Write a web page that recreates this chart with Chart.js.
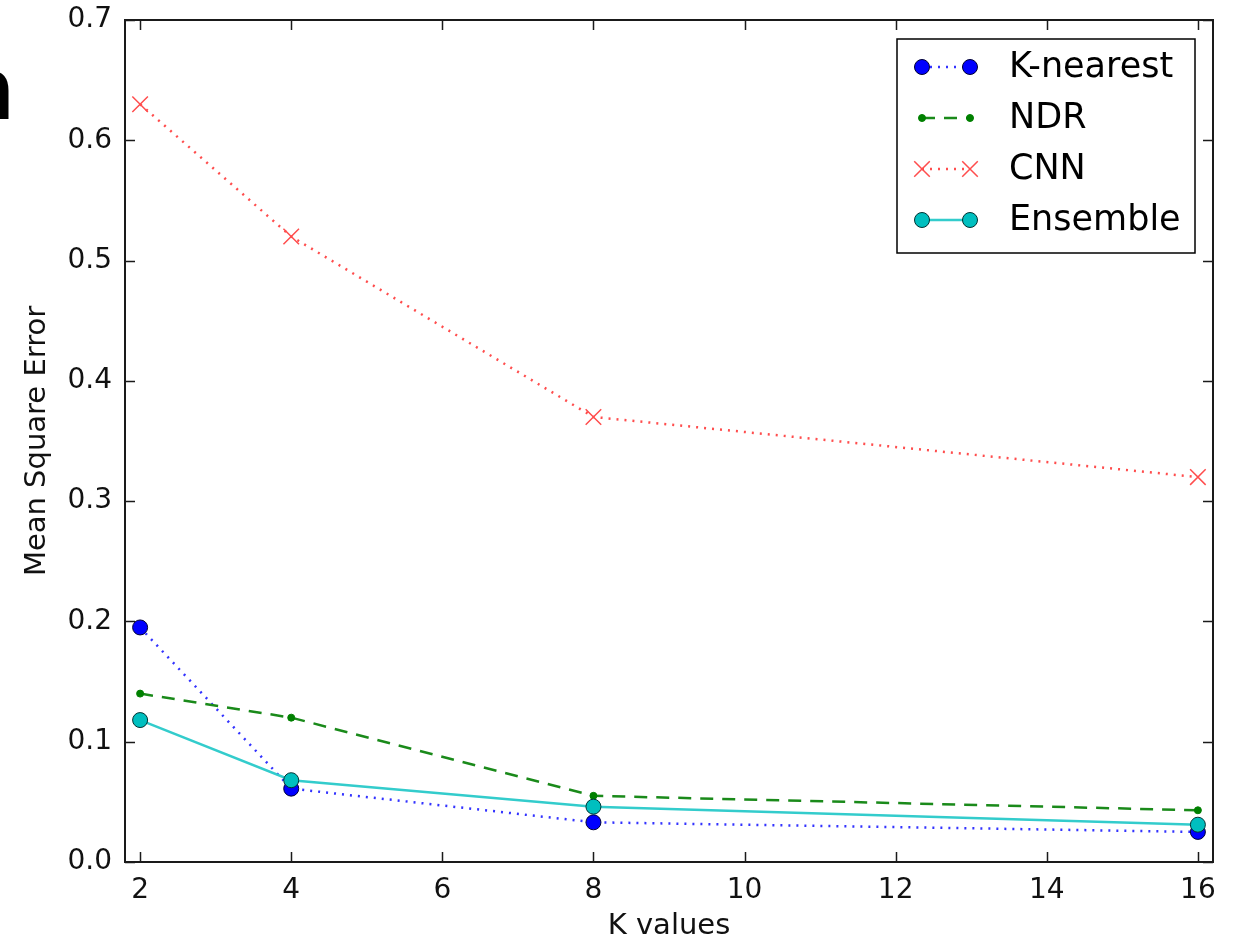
<!DOCTYPE html>
<html>
<head>
<meta charset="utf-8">
<script src="https://cdn.jsdelivr.net/npm/chart.js@4/dist/chart.umd.min.js"></script>
<style>
  body { margin: 0; background: #fff; overflow: hidden; }
  #wrap { position: relative; width: 1233px; height: 944px; }
  #cut { position: absolute; left: -46px; top: 46px; font: bold 86px "DejaVu Sans"; line-height: 1; color: #000; }
</style>
</head>
<body>
<div id="wrap">
  <canvas id="mse-chart"></canvas>
  <div id="cut">n</div>
</div>
<script>
// values
const kValues = [2, 4, 8, 16];
const kNearest = [0.195, 0.061, 0.033, 0.025];
const ndr = [0.14, 0.12, 0.055, 0.043];
const cnn = [0.63, 0.52, 0.37, 0.32];
const ensemble = [0.118, 0.068, 0.046, 0.031];

const xTicks = [2, 4, 6, 8, 10, 12, 14, 16];
const yTicks = [0, 0.1, 0.2, 0.3, 0.4, 0.5, 0.6, 0.7];
const yTickLabels = ["0.0", "0.1", "0.2", "0.3", "0.4", "0.5", "0.6", "0.7"];

const FONT = "DejaVu Sans";

function points(values) {
  return kValues.map((k, i) => ({ x: k, y: values[i] }));
}

// frame + inward ticks on all four sides, matplotlib classic style
const framePlugin = {
  id: "frame",
  afterDraw(chart) {
    const { ctx, chartArea: a, scales } = chart;
    ctx.save();
    ctx.strokeStyle = "#1a1a1a";
    ctx.lineWidth = 1.5;
    xTicks.forEach((v) => {
      const px = Math.round(scales.x.getPixelForValue(v)) + 0.5;
      ctx.beginPath();
      ctx.moveTo(px, a.bottom); ctx.lineTo(px, a.bottom - 10);
      ctx.moveTo(px, a.top); ctx.lineTo(px, a.top + 10);
      ctx.stroke();
    });
    yTicks.forEach((v) => {
      const py = Math.round(scales.y.getPixelForValue(v)) + 0.5;
      ctx.beginPath();
      ctx.moveTo(a.left, py); ctx.lineTo(a.left + 10, py);
      ctx.moveTo(a.right, py); ctx.lineTo(a.right - 10, py);
      ctx.stroke();
    });
    ctx.lineWidth = 2;
    ctx.strokeRect(a.left, a.top, a.right - a.left, a.bottom - a.top);
    ctx.restore();
  },
};

// boxed legend in the upper right, drawn from the dataset styles
const legendPlugin = {
  id: "boxLegend",
  afterDraw(chart) {
    const { ctx } = chart;
    const box = { x: 897, y: 39, w: 298, h: 214 };
    ctx.save();
    ctx.fillStyle = "#fff";
    ctx.fillRect(box.x, box.y, box.w, box.h);
    ctx.strokeStyle = "#000";
    ctx.lineWidth = 1.5;
    ctx.strokeRect(box.x, box.y, box.w, box.h);
    chart.data.datasets.forEach((ds, i) => {
      const y = 67 + i * 51;
      const x1 = 922, x2 = 970;
      ctx.strokeStyle = ds.borderColor;
      ctx.lineWidth = ds.borderWidth;
      ctx.setLineDash(ds.borderDash || []);
      ctx.beginPath();
      ctx.moveTo(x1, y); ctx.lineTo(x2, y);
      ctx.stroke();
      ctx.setLineDash([]);
      [x1, x2].forEach((x) => {
        if (ds.pointStyle === "crossRot") {
          const d = ds.pointRadius * 0.707;
          ctx.strokeStyle = ds.pointBorderColor;
          ctx.lineWidth = ds.pointBorderWidth;
          ctx.beginPath();
          ctx.moveTo(x - d, y - d); ctx.lineTo(x + d, y + d);
          ctx.moveTo(x - d, y + d); ctx.lineTo(x + d, y - d);
          ctx.stroke();
        } else {
          ctx.fillStyle = ds.pointBackgroundColor;
          ctx.strokeStyle = ds.pointBorderColor;
          ctx.lineWidth = ds.pointBorderWidth;
          ctx.beginPath();
          ctx.arc(x, y, ds.pointRadius, 0, Math.PI * 2);
          ctx.fill();
          ctx.stroke();
        }
      });
      ctx.fillStyle = "#000";
      ctx.font = "35px " + FONT;
      ctx.textBaseline = "middle";
      ctx.textAlign = "left";
      ctx.fillText(ds.label, 1009, y + 1);
    });
    ctx.restore();
  },
};

new Chart(document.getElementById("mse-chart"), {
  type: "line",
  data: {
    datasets: [
      {
        label: "K-nearest",
        data: points(kNearest),
        borderColor: "#3333ff",
        borderWidth: 2.5,
        borderDash: [2, 6],
        pointStyle: "circle",
        pointRadius: 7.5,
        pointBackgroundColor: "#0000ff",
        pointBorderColor: "#000033",
        pointBorderWidth: 1,
        order: 3,
      },
      {
        label: "NDR",
        data: points(ndr),
        borderColor: "#1a8a1a",
        borderWidth: 2.5,
        borderDash: [13, 9],
        pointStyle: "circle",
        pointRadius: 3.5,
        pointBackgroundColor: "#008000",
        pointBorderColor: "#008000",
        pointBorderWidth: 1,
        order: 2,
      },
      {
        label: "CNN",
        data: points(cnn),
        borderColor: "#ff4d4d",
        borderWidth: 2.5,
        borderDash: [2, 6],
        pointStyle: "crossRot",
        pointRadius: 11,
        pointBackgroundColor: "#ff4d4d",
        pointBorderColor: "#ff4d4d",
        pointBorderWidth: 1.5,
        order: 1,
      },
      {
        label: "Ensemble",
        data: points(ensemble),
        borderColor: "#33cccc",
        borderWidth: 2.5,
        pointStyle: "circle",
        pointRadius: 7.5,
        pointBackgroundColor: "#00bfbf",
        pointBorderColor: "#003333",
        pointBorderWidth: 1,
        order: 0,
      },
    ],
  },
  options: {
    responsive: true,
    maintainAspectRatio: false,
    animation: false,
    events: [],
    layout: {
      autoPadding: false,
      padding: { top: 20, right: 20, left: 0, bottom: 0 },
    },
    elements: {
      line: { tension: 0, fill: false },
    },
    datasets: {
      line: { clip: false },
    },
    plugins: {
      legend: { display: false },
      tooltip: { enabled: false },
    },
    scales: {
      x: {
        type: "linear",
        min: 1.8,
        max: 16.2,
        afterBuildTicks: (scale) => {
          scale.ticks = xTicks.map((v) => ({ value: v }));
        },
        afterFit: (scale) => {
          scale.height = 82;
          scale.paddingLeft = 0;
          scale.paddingRight = 0;
        },
        grid: { display: false },
        border: { display: false },
        ticks: {
          color: "#111",
          padding: 4,
          maxRotation: 0,
          autoSkip: false,
          font: { family: FONT, size: 28 },
          callback: (v) => String(v),
        },
        title: {
          display: true,
          text: "K values",
          color: "#111",
          padding: { top: 0, bottom: 0 },
          font: { family: FONT, size: 29 },
        },
      },
      y: {
        min: 0,
        max: 0.7,
        afterBuildTicks: (scale) => {
          scale.ticks = yTicks.map((v) => ({ value: v }));
        },
        afterFit: (scale) => {
          scale.width = 125;
          scale.paddingTop = 0;
          scale.paddingBottom = 0;
        },
        grid: { display: false },
        border: { display: false },
        ticks: {
          color: "#111",
          padding: 5,
          autoSkip: false,
          font: { family: FONT, size: 28 },
          callback: (v, i) => yTickLabels[i],
        },
        title: {
          display: true,
          text: "Mean Square Error",
          color: "#111",
          padding: { top: 20, bottom: 0 },
          font: { family: FONT, size: 29 },
        },
      },
    },
  },
  plugins: [framePlugin, legendPlugin],
});
</script>
</body>
</html>
